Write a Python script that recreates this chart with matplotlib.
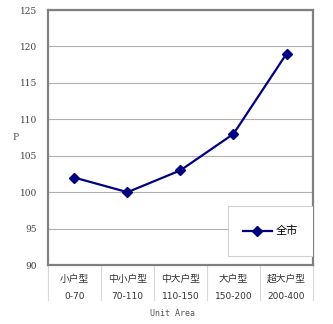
import matplotlib
matplotlib.use("Agg")
from matplotlib import pyplot as plt
from matplotlib.patches import Rectangle

plt.rcParams['font.family'] = ['Noto Sans CJK SC', 'DejaVu Sans']

categories = ["小户型", "中小户型", "中大户型", "大户型", "超大户型"]
ranges = ["0-70", "70-110", "110-150", "150-200", "200-400"]
values = [102, 100, 103, 108, 119]
series_name = "全市"
yticks = [90, 95, 100, 105, 110, 115, 120, 125]

fig = plt.figure(figsize=(3.33, 3.24), dpi=100)
ax = fig.add_axes([0.144, 0.182, 0.796, 0.787])

x = [i + 0.5 for i in range(len(values))]
line, = ax.plot(x, values, color="#000080", lw=1.6, marker="D", ms=5.5,
                label=series_name, zorder=3)

ax.set_xlim(0, len(values))
ax.set_ylim(90, 125)
ax.set_yticks(yticks)
ax.set_xticks([])
ax.tick_params(axis="y", length=0, pad=8, labelsize=6.5, labelcolor="#444444")
for lbl in ax.get_yticklabels():
    lbl.set_family("DejaVu Serif")
ax.yaxis.grid(True, color="#b0b0b0", lw=0.8)
ax.set_axisbelow(True)
for s in ax.spines.values():
    s.set_color("#808080")
    s.set_linewidth(1.6)

# category labels and separators below the axis
for i in range(len(values) + 1):
    ax.plot([i, i], [0, -0.137], transform=ax.get_xaxis_transform(),
            color="#d8d8d8", lw=0.8, clip_on=False)
for i, (c, r) in enumerate(zip(categories, ranges)):
    ax.text(i + 0.5, -0.055, c, transform=ax.get_xaxis_transform(),
            ha="center", va="center", fontsize=7, color="#333333")
    ax.text(i + 0.5, -0.122, r, transform=ax.get_xaxis_transform(),
            ha="center", va="center", fontsize=6.5, color="#333333",
            family="DejaVu Sans")

fig.text(173 / 333, 1 - 314 / 324, "Unit Area", ha="center", va="center",
         fontsize=6, color="#555555", family="DejaVu Sans Mono")
fig.text(16 / 333, 1 - 137 / 324, "P", ha="center", va="center",
         fontsize=6.5, color="#555555", family="DejaVu Serif")

# legend box
ax.add_patch(Rectangle((0.679, 0.035), 0.321, 0.196, transform=ax.transAxes,
                       facecolor="white", edgecolor="#d0d0d0", lw=0.8, zorder=4))
ax.legend(handles=[line], loc="center", bbox_to_anchor=(0.679, 0.035, 0.321, 0.196),
          frameon=False, fontsize=8, handlelength=2.6, handletextpad=0.4)

fig.savefig("out.png", dpi=100)
